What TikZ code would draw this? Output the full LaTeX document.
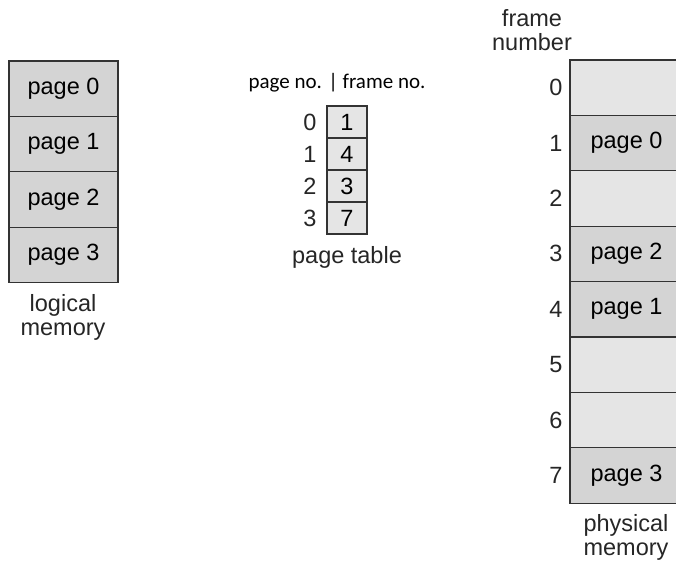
\documentclass[tikz,border=0pt]{standalone}
\usepackage{fontspec}
\setmainfont{Liberation Sans}
\newfontfamily\calibri{Carlito}

\def\rowh{55.4}
\def\tabh{32}

\begin{document}
\begin{tikzpicture}[x=1pt,y=-1pt,line width=1.2pt,draw=black!80]
    \tikzstyle{cell}=[draw=black!80,line width=1.2pt,inner sep=0pt,font=\fontsize{23.5}{28}\selectfont]
    \tikzstyle{logical page}=[cell,fill=black!17,minimum width=109pt,minimum height=\rowh pt]
    \tikzstyle{used frame}=[cell,fill=black!17,minimum width=113pt,minimum height=\rowh pt]
    \tikzstyle{free frame}=[cell,fill=black!10,minimum width=113pt,minimum height=\rowh pt]
    \tikzstyle{table entry}=[cell,fill=black!10,minimum width=40pt,minimum height=\tabh pt]
    \tikzstyle{index}=[anchor=east,inner sep=0pt,font=\fontsize{23.5}{28}\selectfont,text=black!85]
    \tikzstyle{annot}=[align=center,inner sep=0pt,font=\fontsize{23.5}{24}\selectfont,text=black!85]

    \useasboundingbox (0,0) rectangle (676,565);

    % Draw the logical memory
    \node[logical page] (L-0) at (63.5,61+0.5*\rowh) {page 0};
    \node[logical page] (L-1) at (63.5,61+1.5*\rowh) {page 1};
    \node[logical page] (L-2) at (63.5,61+2.5*\rowh) {page 2};
    \node[logical page] (L-3) at (63.5,61+3.5*\rowh) {page 3};
    \node[annot] (lm) at (63,317) {logical\\memory};

    % Draw the page table
    \node[font=\calibri\fontsize{21}{24}\selectfont,inner sep=0pt] (th) at (337,83) {page no. | frame no.};
    \node[table entry] (T-0) at (347,106+0.5*\tabh) {1};
    \node[table entry] (T-1) at (347,106+1.5*\tabh) {4};
    \node[table entry] (T-2) at (347,106+2.5*\tabh) {3};
    \node[table entry] (T-3) at (347,106+3.5*\tabh) {7};
    \foreach \i in {0,...,3}
        \node[index] (TI-\i) at (317,106+\i*\tabh+0.5*\tabh) {\i};
    \node[annot] (pt) at (347,257) {page table};

    % Draw the physical memory
    \node[annot] (fn) at (532,30) {frame\\number};
    \node[free frame] (F-0) at (626.5,60+0.5*\rowh) {};
    \node[used frame] (F-1) at (626.5,60+1.5*\rowh) {page 0};
    \node[free frame] (F-2) at (626.5,60+2.5*\rowh) {};
    \node[used frame] (F-3) at (626.5,60+3.5*\rowh) {page 2};
    \node[used frame] (F-4) at (626.5,60+4.5*\rowh) {page 1};
    \node[free frame] (F-5) at (626.5,60+5.5*\rowh) {};
    \node[free frame] (F-6) at (626.5,60+6.5*\rowh) {};
    \node[used frame] (F-7) at (626.5,60+7.5*\rowh) {page 3};
    \foreach \i in {0,...,7}
        \node[index] (FI-\i) at (563,60+\i*\rowh+0.5*\rowh) {\i};
    \node[annot] (pm) at (626,537) {physical\\memory};
\end{tikzpicture}
\end{document}
